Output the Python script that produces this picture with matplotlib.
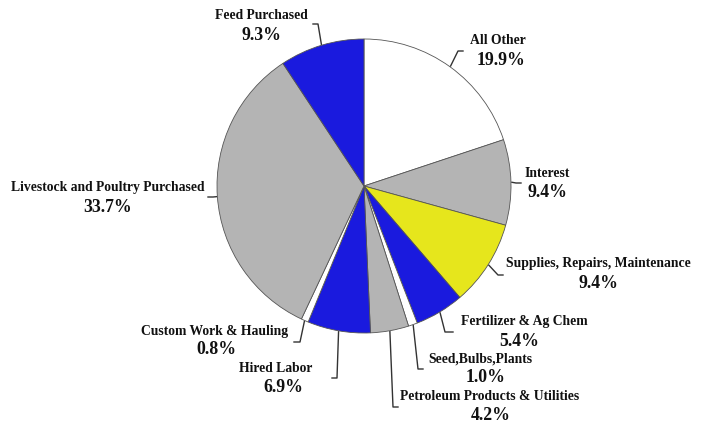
import numpy as np
import matplotlib.pyplot as plt

# data, clockwise from 12 o'clock
labels = ['All Other', 'Interest', 'Supplies, Repairs, Maintenance',
          'Fertilizer & Ag Chem', 'Seed,Bulbs,Plants',
          'Petroleum Products & Utilities', 'Hired Labor',
          'Custom Work & Hauling', 'Livestock and Poultry Purchased',
          'Feed Purchased']
shares = [19.9, 9.4, 9.4, 5.4, 1.0, 4.2, 6.9, 0.8, 33.7, 9.3]
colors = ['white', '#b4b4b4', '#e6e61c', '#1a1ade', 'white',
          '#b4b4b4', '#1a1ade', 'white', '#b4b4b4', '#1a1ade']

W, H = 702, 423
fig = plt.figure(figsize=(W / 100, H / 100), dpi=100)
ax = fig.add_axes([0, 0, 1, 1])

cx, cy, R = 364, H - 186, 147
wedges, _ = ax.pie(shares, colors=colors, startangle=90, counterclock=False,
                   center=(cx, cy), radius=R, frame=True,
                   wedgeprops=dict(edgecolor='#555555', linewidth=0.6))
ax.set_xlim(0, W)
ax.set_ylim(0, H)
ax.axis('off')

# layout (pixel coords, y down): elbow, line end, label pos, pct pos
layout = [
    ((458, 51), (463, 51), (498, 40), (501, 60)),
    ((516, 183), (521, 183), (547, 173), (547, 192)),
    ((498, 275), (503, 275), (598, 264), (598, 283)),
    ((445, 332), (453, 332), (524, 322), (519, 341)),
    ((418, 369), (423, 369), (480, 359), (486, 377)),
    ((393, 407), (398, 407), (490, 396), (491, 415)),
    ((337, 378), (332, 378), (276, 369), (283, 388)),
    ((300, 342), (294, 342), (215, 332), (216, 350)),
    ((213, 197), (208, 197), (108, 187), (108, 207)),
    ((318, 24), (313, 24), (261, 15), (261, 35)),
]

font = dict(family='Liberation Serif', fontweight='bold', ha='center', va='center')
for w, lab, val, (elb, end, lpos, ppos) in zip(wedges, labels, shares, layout):
    ang = np.deg2rad((w.theta1 + w.theta2) / 2)
    ax_, ay_ = cx + (R + 1) * np.cos(ang), cy + (R + 1) * np.sin(ang)
    ax.plot([ax_, elb[0], end[0]], [ay_, H - elb[1], H - end[1]],
            color='#333333', lw=1.0)
    ax.text(lpos[0], H - lpos[1], lab, fontsize=9.8, color='#111111', **font)
    ax.text(ppos[0], H - ppos[1], f'{val:.1f}%', fontsize=12.8, color='#111111', **font)

fig.savefig('out.png', dpi=100)
